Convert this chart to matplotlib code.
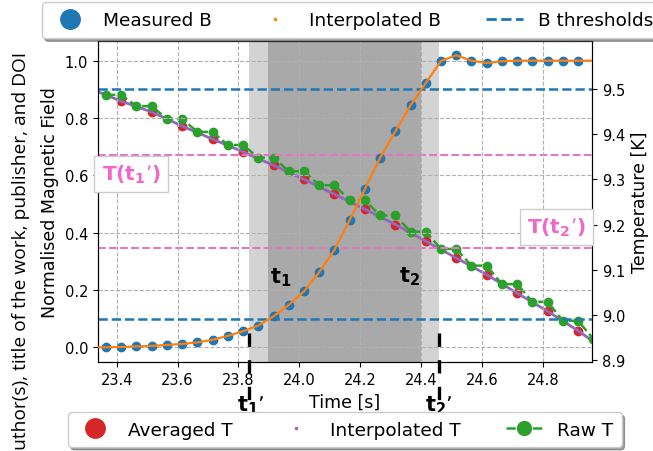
import numpy as np
import matplotlib.pyplot as plt
from matplotlib.lines import Line2D
import matplotlib.transforms as mtransforms

# Datos
time_b = [23.365, 23.415, 23.465, 23.515, 23.565, 23.615, 23.665, 23.715,
          23.765, 23.815, 23.865, 23.915, 23.965, 24.015, 24.065, 24.115,
          24.165, 24.215, 24.265, 24.315, 24.365, 24.415, 24.465, 24.515,
          24.565, 24.615, 24.665, 24.715, 24.765, 24.815, 24.865, 24.915]
b_meas = [0.000, 0.001, 0.003, 0.005, 0.008, 0.012, 0.017, 0.026,
          0.040, 0.056, 0.076, 0.108, 0.148, 0.195, 0.262, 0.340,
          0.444, 0.552, 0.661, 0.753, 0.844, 0.922, 0.999, 1.019,
          1.000, 0.992, 0.998, 1.000, 1.000, 1.000, 1.000, 1.000]
time_b_ends = [23.338, 24.961]
b_ends = [0.000, 1.000]

time_raw = time_b + [24.965]
t_raw = [9.487, 9.487, 9.462, 9.462, 9.434, 9.434, 9.405, 9.405,
         9.376, 9.376, 9.348, 9.348, 9.318, 9.318, 9.287, 9.287,
         9.254, 9.254, 9.220, 9.220, 9.184, 9.184, 9.146, 9.146,
         9.109, 9.109, 9.068, 9.068, 9.029, 9.029, 8.987, 8.987, 8.947]

time_avg = [23.415, 23.515, 23.615, 23.715, 23.815, 23.915, 24.015, 24.115,
            24.215, 24.315, 24.415, 24.515, 24.615, 24.715, 24.815, 24.915]
t_avg = [9.473, 9.449, 9.418, 9.389, 9.361, 9.331, 9.300, 9.267,
         9.234, 9.200, 9.163, 9.126, 9.089, 9.048, 9.008, 8.965]
time_t_ends = [23.338, 24.961]
t_ends = [9.494, 8.943]

b_thresholds = [0.9, 0.1]
t1p, t1, t2, t2p = 23.836, 23.898, 24.400, 24.459
T_t1p, T_t2p = 9.353, 9.147

pink_txt = '#f266cc'

fig = plt.figure(figsize=(6.53, 4.52), dpi=100)
ax1 = fig.add_axes([98/653, 89/452, 494/653, 321/452])
ax2 = ax1.twinx()
ax1.set_zorder(ax2.get_zorder() + 1)
ax1.patch.set_visible(False)

# zonas sombreadas
ax2.axvspan(t1p, t2p, color='lightgray', zorder=0, lw=0)
ax2.axvspan(t1, t2, color='darkgray', zorder=0, lw=0)

# temperatura (eje derecho)
ax2.plot(time_avg, t_avg, 'o', color='tab:red', ms=6, zorder=2)
ax2.plot([time_t_ends[0]] + time_avg + [time_t_ends[1]],
         [t_ends[0]] + t_avg + [t_ends[1]], '-', color='tab:purple', lw=2, zorder=3)
ax2.plot(time_raw, t_raw, 'o--', color='tab:green', ms=6, lw=1.8, zorder=4)
for T in (T_t1p, T_t2p):
    ax2.axhline(T, ls='--', color='tab:pink', lw=1.5, zorder=5)

# campo magnetico (eje izquierdo)
for b in b_thresholds:
    ax1.axhline(b, ls='--', color='tab:blue', lw=1.8, zorder=2)
ax1.plot(time_b, b_meas, 'o', color='tab:blue', ms=6, zorder=3)
ax1.plot([time_b_ends[0]] + time_b + [time_b_ends[1]],
         [b_ends[0]] + b_meas + [b_ends[1]], '-', color='tab:orange', lw=1.6, zorder=4)

ax1.set_xlim(23.3386, 24.961)
ax1.set_ylim(-0.0513, 1.0687)
ax2.set_ylim(8.8956, 9.6063)
ax1.set_xticks([23.4, 23.6, 23.8, 24.0, 24.2, 24.4, 24.6, 24.8])
ax1.set_yticks([0.0, 0.2, 0.4, 0.6, 0.8, 1.0])
ax2.set_yticks([8.9, 9.0, 9.1, 9.2, 9.3, 9.4, 9.5])
ax1.tick_params(labelsize=10.5)
ax2.tick_params(labelsize=10.5)
ax1.grid(True, ls='--', color='#b0b0b0', lw=0.8)

ax1.set_xlabel('Time [s]', fontsize=12.5)
ax1.set_ylabel('Normalised Magnetic Field', fontsize=12.5)
ax2.set_ylabel('Temperature [K]', fontsize=12.5)

# marcas t1', t2'
trans = mtransforms.blended_transform_factory(ax1.transData, ax1.transAxes)
for x in (t1p, t2p):
    ax1.plot([x, x], [0.09, -0.17], color='k', lw=2.4, ls=(0, (4, 4)),
             transform=trans, clip_on=False, zorder=6)
ax1.text(t1p + 0.005, -0.134, r"$\mathbf{t_1}$’", transform=trans, ha='center',
         va='center', fontsize=15, fontweight='bold')
ax1.text(t2p, -0.134, r"$\mathbf{t_2}$’", transform=trans, ha='center',
         va='center', fontsize=15, fontweight='bold')
ax1.text(23.94, 0.245, r"$\mathbf{t_1}$", ha='center', va='center', fontsize=15)
ax1.text(24.363, 0.249, r"$\mathbf{t_2}$", ha='center', va='center', fontsize=15)

box = dict(boxstyle='square,pad=0.35', fc='white', ec='#cccccc', lw=1)
ax1.text(23.447, 0.605, r"T($\mathbf{t_1}$’)", ha='center', va='center',
         fontsize=14.5, fontweight='bold', color=pink_txt, bbox=box, zorder=7)
ax1.text(24.843, 0.42, r"T($\mathbf{t_2}$’)", ha='center', va='center',
         fontsize=14.5, fontweight='bold', color=pink_txt, bbox=box, zorder=7)

# leyendas
top_h = [Line2D([], [], marker='o', ls='none', color='tab:blue', ms=14),
         Line2D([], [], marker='.', ls='none', color='tab:orange', ms=3),
         Line2D([], [], ls='--', color='tab:blue', lw=2)]
fig.legend(top_h, ['Measured B', 'Interpolated B', 'B thresholds'],
           loc='upper left', bbox_to_anchor=(42/653, 1 - 3/452), ncol=3,
           fontsize=13.3, shadow=True, borderaxespad=0, columnspacing=2.45,
           borderpad=0.5)
bot_h = [Line2D([], [], marker='o', ls='none', color='tab:red', ms=14),
         Line2D([], [], marker='.', ls='none', color='tab:purple', ms=3),
         Line2D([], [], marker='o', ls='--', color='tab:green', ms=10, lw=1.8)]
fig.legend(bot_h, ['Averaged T', 'Interpolated T', 'Raw T'],
           loc='lower left', bbox_to_anchor=(68/653, 4/452), ncol=3,
           fontsize=13.3, shadow=True, borderaxespad=0, columnspacing=2.45,
           borderpad=0.45)

# texto cortado en el borde izquierdo
fig.text(30/653, 1 - 52/452, 'attribution to the author(s), title of the work, publisher, and DOI',
         rotation=90, ha='right', va='top', fontsize=13.8, family='Open Sans')

fig.savefig('out.png', dpi=100)
